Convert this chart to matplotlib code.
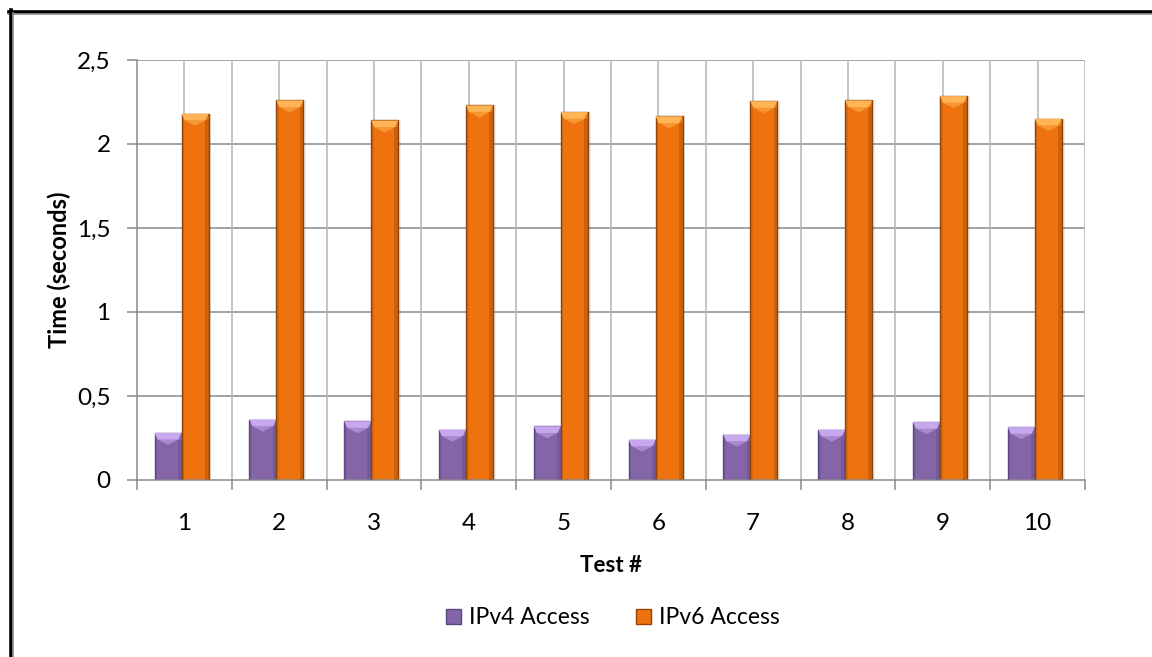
import matplotlib
matplotlib.use("Agg")
import matplotlib.pyplot as plt
from matplotlib.patches import Polygon, Rectangle
from matplotlib.lines import Line2D
import numpy as np

tests = ["1", "2", "3", "4", "5", "6", "7", "8", "9", "10"]
ipv4 = [0.28, 0.36, 0.35, 0.30, 0.32, 0.24, 0.27, 0.30, 0.345, 0.315]
ipv6 = [2.18, 2.26, 2.14, 2.23, 2.19, 2.165, 2.255, 2.26, 2.285, 2.15]
y_ticks = [0, 0.5, 1, 1.5, 2, 2.5]
y_tick_labels = ["0", "0,5", "1", "1,5", "2", "2,5"]

plt.rcParams["font.family"] = ["Lato", "DejaVu Sans"]

W, H = 1152, 657
fig = plt.figure(figsize=(W / 100, H / 100), dpi=100)
fig.patch.set_facecolor("white")
ax = fig.add_axes([137 / W, 1 - 480 / H, (1085 - 137) / W, (480 - 60) / H])

n = len(tests)
x = np.arange(n)
bw = 0.285
shift = -0.03

# grid: horizontal at each major tick, vertical at category boundaries and centres
for yv in y_ticks[1:]:
    ax.axhline(yv, color="#8a8a8a", lw=1.1, zorder=0)
for xv in np.arange(-0.5, n, 0.5)[1:]:
    ax.axvline(xv, color="#b4b4b4", lw=1.1, zorder=0)

series = [
    (ipv4, shift - bw / 2, "#8465a8", "#5b4680", "#c7a8ee", "IPv4 Access"),
    (ipv6, shift + bw / 2, "#ee730f", "#8f4207", "#ffb456", "IPv6 Access"),
]

for vals, off, face, edge, light, label in series:
    # soft drop shadow on the right side
    ax.bar(x + off + 0.03, vals, bw, color="#000000", alpha=0.07, lw=0, zorder=1)
    bars = ax.bar(x + off, vals, bw, color=face, edgecolor=edge, lw=1.0,
                  zorder=2, label=label)
    for b in bars:
        x0, w, h = b.get_x(), b.get_width(), b.get_height()
        cap = 0.04
        inset = w * 0.12
        # bevelled top face
        ax.add_patch(Polygon([(x0, h), (x0 + w, h), (x0 + w - inset, h - cap),
                              (x0 + inset, h - cap)], closed=True,
                             facecolor=light, edgecolor="none", zorder=3))
        ax.add_patch(Polygon([(x0 + inset, h - cap), (x0 + w - inset, h - cap),
                              (x0 + w / 2, h - cap * 1.8)], closed=True,
                             facecolor=light, alpha=0.55, edgecolor="none", zorder=3))
        # darker side strips
        ax.add_patch(Rectangle((x0 + w * 0.86, 0), w * 0.14, h - cap,
                               facecolor=edge, alpha=0.35, edgecolor="none", zorder=3))
        ax.add_patch(Rectangle((x0, 0), w * 0.1, h - cap,
                               facecolor=edge, alpha=0.2, edgecolor="none", zorder=3))

ax.set_xlim(-0.5, n - 0.5)
ax.set_ylim(0, 2.5)
ax.set_yticks(y_ticks)
ax.set_yticklabels(y_tick_labels)
ax.set_xticks(np.arange(-0.5, n, 1.0), minor=False)
ax.set_xticklabels([""] * len(np.arange(-0.5, n, 1.0)))
ax.set_xticks(x, minor=True)
ax.set_xticklabels(tests, minor=True)
ax.tick_params(axis="x", which="major", length=7, color="#8a8a8a", width=1.1)
ax.tick_params(axis="x", which="minor", length=0, pad=24, labelsize=17.5)
ax.tick_params(axis="y", length=7, color="#8a8a8a", width=1.1, labelsize=17.5, pad=12)

for s in ["top", "right"]:
    ax.spines[s].set_visible(False)
for s in ["left", "bottom"]:
    ax.spines[s].set_color("#8a8a8a")
    ax.spines[s].set_linewidth(1.1)

ax.set_xlabel("Test #", fontsize=16, fontweight="bold", labelpad=15)
ax.set_ylabel("Time (seconds)", fontsize=17, fontweight="bold", labelpad=4)

handles, labels = ax.get_legend_handles_labels()
fig.legend(handles, labels, loc="center", bbox_to_anchor=(613 / W, 1 - 618 / H),
           ncol=2, frameon=False, fontsize=16.5, handlelength=0.65, handleheight=0.65,
           columnspacing=2.0, handletextpad=0.35)

# outer frame (top and left edges)
fig.add_artist(Line2D([9 / W, 1], [1 - 11.5 / H, 1 - 11.5 / H], color="black",
                      lw=2.6, transform=fig.transFigure))
fig.add_artist(Line2D([9 / W, 1], [1 - 14 / H, 1 - 14 / H], color="#8c8c8c",
                      lw=1.2, transform=fig.transFigure))
fig.add_artist(Line2D([10.5 / W, 10.5 / W], [0, 1 - 10 / H], color="black",
                      lw=2.6, transform=fig.transFigure))
fig.add_artist(Line2D([13 / W, 13 / W], [0, 1 - 13 / H], color="#8c8c8c",
                      lw=1.2, transform=fig.transFigure))

fig.savefig("out.png", dpi=100, facecolor="white")
